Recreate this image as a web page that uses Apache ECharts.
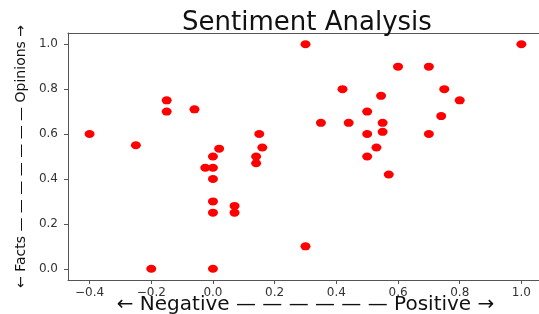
<!DOCTYPE html>
<html>
<head>
<meta charset="utf-8">
<script src="https://cdn.jsdelivr.net/npm/echarts@6/dist/echarts.min.js"></script>
<style>
    html, body { margin: 0; padding: 0; background: #fff; }
    #chart { width: 539px; height: 314px; }
</style>
</head>
<body>
<div id="chart"></div>
<script>
// polarity (x) and subjectivity (y) of each sentence
const polarity = [
    0.3, 1.0, 0.6, 0.7, 0.42, 0.75, 0.545, 0.8, -0.15, -0.15,
    -0.06, 0.5, 0.74, 0.35, 0.44, 0.55, -0.4, 0.15, 0.5, 0.55,
    0.7, -0.25, 0.02, 0.16, 0.53, 0.0, 0.14, 0.5, 0.14, -0.025,
    0.0, 0.57, 0.0, 0.0, 0.07, 0.0, 0.07, 0.3, -0.2, 0.0
];
const subjectivity = [
    1.0, 1.0, 0.9, 0.9, 0.8, 0.8, 0.77, 0.75, 0.75, 0.7,
    0.71, 0.7, 0.68, 0.65, 0.65, 0.65, 0.6, 0.6, 0.6, 0.61,
    0.6, 0.55, 0.535, 0.54, 0.54, 0.5, 0.5, 0.5, 0.47, 0.45,
    0.45, 0.42, 0.4, 0.3, 0.28, 0.25, 0.25, 0.1, 0.0, 0.0
];
const xTicks = [-0.4, -0.2, 0.0, 0.2, 0.4, 0.6, 0.8, 1.0];
const yTicks = [0.0, 0.2, 0.4, 0.6, 0.8, 1.0];

const points = polarity.map((x, i) => [x, subjectivity[i]]);

const chart = echarts.init(document.getElementById("chart"), null, { renderer: "canvas" });

function fmt(value) {
    return value.toFixed(1).replace("-", "\u2212");
}

const frameLine = { show: true, onZero: false, lineStyle: { color: "#555" } };

chart.setOption({
    animation: false,
    backgroundColor: "#ffffff",
    title: {
        text: "Sentiment Analysis",
        left: 302,
        top: 5,
        textAlign: "center",
        textStyle: {
            fontFamily: "DejaVu Sans",
            fontWeight: "normal",
            fontSize: 26,
            color: "#111"
        }
    },
    grid: {
        left: 68,
        top: 33,
        width: 475,
        height: 247,
        outerBoundsMode: "none"
    },
    xAxis: [
        {
            type: "value",
            min: -0.47,
            max: 1.07,
            name: "\u2190 Negative \u2014 \u2014 \u2014 \u2014 \u2014 \u2014 Positive \u2192",
            nameLocation: "middle",
            nameGap: 15,
            nameMoveOverlap: false,
            nameTextStyle: {
                fontFamily: "DejaVu Sans",
                fontSize: 20,
                color: "#111"
            },
            axisLine: frameLine,
            axisTick: {
                show: true,
                length: 4,
                customValues: xTicks,
                lineStyle: { color: "#555" }
            },
            axisLabel: {
                customValues: xTicks,
                margin: 7,
                fontFamily: "DejaVu Sans",
                fontSize: 12,
                color: "#333",
                formatter: fmt
            },
            splitLine: { show: false }
        },
        {
            // top spine only
            type: "value",
            position: "top",
            min: -0.47,
            max: 1.07,
            axisLine: frameLine,
            axisTick: { show: false },
            axisLabel: { show: false },
            splitLine: { show: false }
        }
    ],
    yAxis: {
        type: "value",
        min: -0.05,
        max: 1.05,
        name: "\u2190 Facts \u2014 \u2014 \u2014 \u2014 \u2014 \u2014 \u2014 Opinions \u2192",
        nameLocation: "middle",
        nameGap: 40,
        nameMoveOverlap: false,
        nameTextStyle: {
            fontFamily: "DejaVu Sans",
            fontSize: 14,
            color: "#111"
        },
        axisLine: frameLine,
        axisTick: {
            show: true,
            length: 4,
            customValues: yTicks,
            lineStyle: { color: "#555" }
        },
        axisLabel: {
            customValues: yTicks,
            margin: 10,
            fontFamily: "DejaVu Sans",
            fontSize: 12,
            color: "#333",
            formatter: fmt
        },
        splitLine: { show: false }
    },
    series: [
        {
            type: "scatter",
            data: points,
            symbol: "circle",
            symbolSize: [10, 8],
            itemStyle: { color: "#ff0000", opacity: 1 }
        }
    ]
});
</script>
</body>
</html>
